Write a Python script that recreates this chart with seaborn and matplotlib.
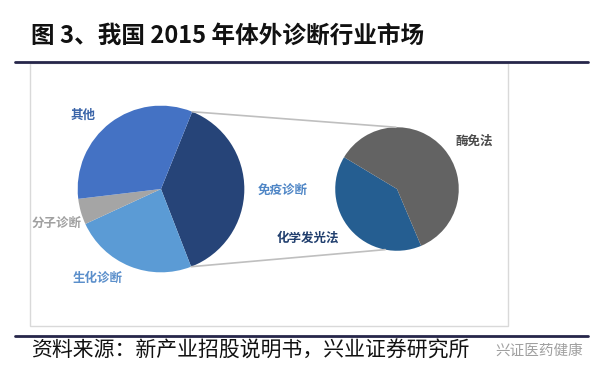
import matplotlib
matplotlib.use("Agg")
import numpy as np
import seaborn as sns
import matplotlib.pyplot as plt
from matplotlib.patches import ConnectionPatch, Rectangle
from matplotlib.lines import Line2D

# Data: 2015 IVD market split, and the breakdown of the immunoassay slice
main_labels = ["免疫诊断", "生化诊断", "分子诊断", "其他"]
main_share = [38, 24, 5, 33]
main_colors = ["#264478", "#5B9BD5", "#A5A5A5", "#4472C4"]
sub_labels = ["化学发光法", "酶免法"]
sub_share = [40, 60]
sub_colors = ["#255E91", "#636363"]

title = "图 3、我国 2015 年体外诊断行业市场"
source = "资料来源：新产业招股说明书，兴业证券研究所"
watermark = "兴证医药健康"

sns.set_style("white")
plt.rcParams['font.family'] = ['Noto Sans CJK SC', 'DejaVu Sans']

W, H = 600, 375
fig = plt.figure(figsize=(6, 3.75), dpi=100)


def fx(x):
    return x / W


def fy(y):
    return 1 - y / H


def pie_box(cx, cy, r):
    return [fx(cx - r), fy(cy + r), 2 * r / W, 2 * r / H]


# frame around the chart area
fig.add_artist(Rectangle((fx(30), fy(326)), fx(478), 263 / H, transform=fig.transFigure,
                         fill=False, edgecolor="#D9D9D9", lw=1))
# header / footer rules
for y in (62, 336):
    fig.add_artist(Line2D([fx(15), fx(588)], [fy(y), fy(y)], transform=fig.transFigure,
                          color="#26264A", lw=2))

ax1 = fig.add_axes(pie_box(161, 189, 85))
ax2 = fig.add_axes(pie_box(397, 189, 63))

w1, _ = ax1.pie(main_share, colors=main_colors, startangle=68, counterclock=False,
                wedgeprops=dict(linewidth=0))
w2, _ = ax2.pie(sub_share, colors=sub_colors, startangle=149, counterclock=True,
                wedgeprops=dict(linewidth=0))
for ax in (ax1, ax2):
    ax.set_xlim(-1.02, 1.02)
    ax.set_ylim(-1.02, 1.02)
    ax.axis("off")

# connector lines from the exploded slice to the secondary pie
for a1, a2 in ((w1[0].theta2, 91), (w1[0].theta1, 259)):
    r1, r2 = np.deg2rad(a1), np.deg2rad(a2)
    con = ConnectionPatch(xyA=(np.cos(r1), np.sin(r1)), coordsA=ax1.transData,
                          xyB=(np.cos(r2), np.sin(r2)), coordsB=ax2.transData,
                          color="#BFBFBF", lw=1.2)
    fig.add_artist(con)

# slice labels
label_pos = {
    "其他": (83, 115, "#3A64A8"),
    "免疫诊断": (283, 190, "#4F86C6"),
    "分子诊断": (57, 223, "#A0A0A0"),
    "生化诊断": (98, 278, "#5B8FCB"),
    "化学发光法": (308, 238, "#213F6E"),
    "酶免法": (474, 141, "#4A4A4A"),
}
for name, (x, y, c) in label_pos.items():
    fig.text(fx(x), fy(y), name, ha="center", va="center", fontsize=9,
             color=c, fontweight="bold")

fig.text(fx(31), fy(36), title, ha="left", va="center", fontsize=17, fontweight="bold",
         color="#111111")
fig.text(fx(31), fy(351), source, ha="left", va="center", fontsize=15, color="#111111")
fig.text(fx(583), fy(351), watermark, ha="right", va="center", fontsize=10.5,
         color="#A0A0A0")

fig.savefig("out.png", dpi=100)
